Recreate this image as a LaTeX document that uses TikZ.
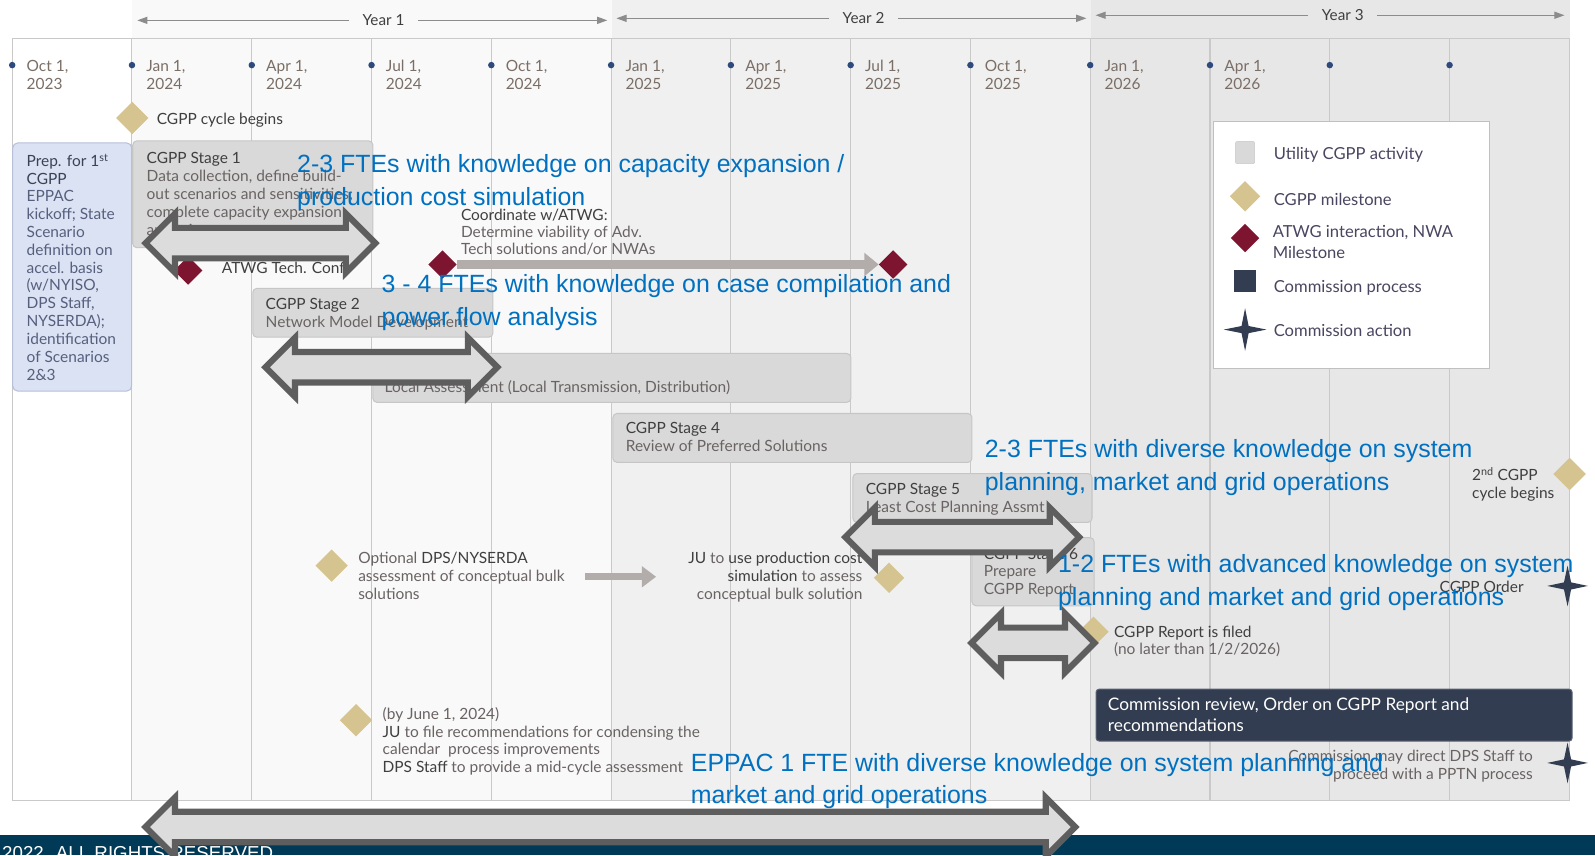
\documentclass[tikz,border=0pt]{standalone}
\usepackage{fontspec}
\setmainfont{Lato}
\newfontfamily\bluefont{Liberation Sans}
\usetikzlibrary{arrows.meta,shapes.geometric}
\definecolor{bandA}{HTML}{F9F9F9}
\definecolor{bandB}{HTML}{F0F0F0}
\definecolor{bandC}{HTML}{E7E7E7}
\definecolor{gridc}{HTML}{C9C9C9}
\definecolor{dotc}{HTML}{2E4A7D}
\definecolor{datec}{HTML}{7A6E66}
\definecolor{tanc}{HTML}{D5C48F}
\definecolor{maroonc}{HTML}{7D1530}
\definecolor{navyc}{HTML}{333D51}
\definecolor{boxfill}{HTML}{D9D9D9}
\definecolor{boxedge}{HTML}{C6C6C6}
\definecolor{prepfill}{HTML}{DAE2F3}
\definecolor{prepedge}{HTML}{B6C0D8}
\definecolor{prepdark}{HTML}{3A4257}
\definecolor{preptxt}{HTML}{56607E}
\definecolor{darktxt}{HTML}{3F3F3F}
\definecolor{midtxt}{HTML}{6A6363}
\definecolor{bluet}{HTML}{0070C0}
\definecolor{arrowedge}{HTML}{5E5E5E}
\definecolor{arrowfill}{HTML}{DCDCDC}
\definecolor{flowc}{HTML}{B2ACAA}
\definecolor{footc}{HTML}{003A57}
\definecolor{legtxt}{HTML}{4A4560}
\definecolor{yearc}{HTML}{8C8C8C}
\definecolor{legedge}{HTML}{C0C0C0}

\tikzset{
  txt/.style={inner sep=0pt, anchor=north west, align=left, font=\fontsize{15.2}{17.5}\selectfont, text=midtxt},
  boxg/.style={draw=boxedge, fill=boxfill, rounded corners=4pt, line width=1pt, anchor=north west, inner sep=0pt},
  msd/.style={diamond, fill=tanc, inner sep=0pt, minimum width=#1, minimum height=#1},
  msd/.default=32pt,
  atd/.style={diamond, fill=maroonc, inner sep=0pt, minimum width=28pt, minimum height=28pt},
  fatarr/.style={draw=arrowedge, fill=arrowfill, line width=6pt, line join=miter, miter limit=10},
  bluetxt/.style={inner sep=0pt, anchor=north west, align=left, text=bluet, font=\bluefont\fontsize{24.5}{32}\selectfont},
  flow/.style={draw=flowc, line width=8pt, -{Triangle[length=14pt,width=22pt]}},
  gridline/.style={draw=gridc, line width=1pt},
  yeararr/.style={draw=yearc, line width=1.1pt, -{Triangle[length=10pt,width=7pt]}},
  yeartxt/.style={inner ysep=0pt, inner xsep=13pt, text=darktxt, font=\fontsize{15}{16}\selectfont},
  datetxt/.style={txt, text=datec},
  legtext/.style={inner sep=0pt, anchor=west, align=left, text=legtxt, font=\fontsize{16.3}{20}\selectfont},
}
\newcommand{\fatarrow}[3]{%
  \draw[fatarr] (#1,#3) -- (#1+29,#3-29) -- (#1+29,#3-15) -- (#2-29,#3-15) -- (#2-29,#3-29) -- (#2,#3)
    -- (#2-29,#3+29) -- (#2-29,#3+15) -- (#1+29,#3+15) -- (#1+29,#3+29) -- cycle;}
\newcommand{\cstar}[3]{%
  \fill[navyc] (#1,#2-#3) -- (#1+3.5,#2-3.5) -- (#1+#3,#2) -- (#1+3.5,#2+3.5) -- (#1,#2+#3)
    -- (#1-3.5,#2+3.5) -- (#1-#3,#2) -- (#1-3.5,#2-3.5) -- cycle;}

\begin{document}
\begin{tikzpicture}[x=1pt,y=-1pt]
\useasboundingbox (0,0) rectangle (1568,841);
\fill[white] (0,0) rectangle (1568,841);
% year bands
\fill[bandA] (130,0) rectangle (602,787);
\fill[bandB] (602,0) rectangle (1073,787);
\fill[bandC] (1073,0) rectangle (1543,787);
% grid
\draw[gridline] (12,38) -- (1543,38);
\draw[gridline] (12,787) -- (1543,787);
\foreach \i in {0,...,13} {
  \draw[gridline] (12+117.75*\i,38) -- (12+117.75*\i,787);
}
% year headers
\node[yeartxt] (y1) at (377,20) {Year 1};
\coordinate (y1l) at (135,20); \coordinate (y1r) at (597,20);
\draw[yeararr] (y1) -- (y1l); \draw[yeararr] (y1) -- (y1r);
\node[yeartxt] (y2) at (849,18) {Year 2};
\coordinate (y2l) at (606,18); \coordinate (y2r) at (1068,18);
\draw[yeararr] (y2) -- (y2l); \draw[yeararr] (y2) -- (y2r);
\node[yeartxt] (y3) at (1320,15) {Year 3};
\coordinate (y3l) at (1077,15); \coordinate (y3r) at (1538,15);
\draw[yeararr] (y3) -- (y3l); \draw[yeararr] (y3) -- (y3r);
% dates
\foreach \i/\m/\yr in {0/Oct/2023,1/Jan/2024,2/Apr/2024,3/Jul/2024,4/Oct/2024,5/Jan/2025,6/Apr/2025,7/Jul/2025,8/Oct/2025,9/Jan/2026,10/Apr/2026} {
  \node[datetxt] (date\i) at (12+117.75*\i+14,59) {\m{} 1,\\\yr};
}
\foreach \i in {0,...,12} {
  \fill[dotc] (12+117.75*\i,64) circle (3.2);
}
% legend
\node[draw=legedge, fill=white, line width=1.2pt, minimum width=272pt, minimum height=243pt, anchor=north west, inner sep=0pt] (legend) at (1192,119) {};
\node[draw=boxedge, fill=boxfill, rounded corners=2pt, minimum width=19pt, minimum height=22pt, inner sep=0pt] (lg1) at (1224,150) {};
\node[msd=30pt] (lg2) at (1224,193) {};
\node[atd] (lg3) at (1224,234) {};
\node[fill=navyc, minimum width=21pt, minimum height=22pt, inner sep=0pt] (lg4) at (1224,276) {};
\cstar{1224}{324}{21}
\node[legtext] (lt1) at (1252,152) {Utility CGPP activity};
\node[legtext] (lt2) at (1252,196) {CGPP milestone};
\node[legtext] (lt3) at (1251,238) {ATWG interaction, NWA\\Milestone};
\node[legtext] (lt4) at (1252,283) {Commission process};
\node[legtext] (lt5) at (1252,325) {Commission action};
% boxes
\node[draw=prepedge, fill=prepfill, rounded corners=5pt, line width=1pt, anchor=north west, inner sep=0pt, minimum width=117pt, minimum height=244pt] (prep) at (12,140) {};
\node[boxg, minimum width=236pt, minimum height=105pt] (s1) at (130,138) {};
\node[boxg, minimum width=236pt, minimum height=48pt] (s2) at (248,283) {};
\node[boxg, minimum width=470pt, minimum height=48pt] (s3) at (366,347) {};
\node[boxg, minimum width=353pt, minimum height=48pt] (s4) at (602,406) {};
\node[boxg, minimum width=235pt, minimum height=48pt] (s5) at (838,465) {};
\node[boxg, minimum width=120pt, minimum height=67pt] (s6) at (955,528) {};
\node[draw=navyc!80!white, fill=navyc, rounded corners=3pt, line width=1pt, anchor=north west, inner sep=0pt, minimum width=468pt, minimum height=51pt] (comm) at (1077,677) {};
% box texts
\node[txt] (preptext) at (26,151) {\textcolor{prepdark}{Prep. for 1\textsuperscript{st}}\\\textcolor{prepdark}{CGPP}\\\textcolor{preptxt}{EPPAC}\\\textcolor{preptxt}{kickoff; State}\\\textcolor{preptxt}{Scenario}\\\textcolor{preptxt}{definition on}\\\textcolor{preptxt}{accel. basis}\\\textcolor{preptxt}{(w/NYISO,}\\\textcolor{preptxt}{DPS Staff,}\\\textcolor{preptxt}{NYSERDA);}\\\textcolor{preptxt}{identification}\\\textcolor{preptxt}{of Scenarios}\\\textcolor{preptxt}{2\&3}};
\node[txt] (s1t) at (144,150) {\textcolor{darktxt}{CGPP Stage 1}\\Data collection, define build-\\out scenarios and sensitivities;\\complete capacity expansion\\analysis};
\node[txt] (s2t) at (261,293) {\textcolor{darktxt}{CGPP Stage 2}\\Network Model Development};
\node[txt, anchor=west] (s3t) at (378,381) {Local Assessment (Local Transmission, Distribution)};
\node[txt] (s4t) at (615,415) {\textcolor{darktxt}{CGPP Stage 4}\\Review of Preferred Solutions};
\node[txt] (s5t) at (851,475) {\textcolor{darktxt}{CGPP Stage 5}\\Least Cost Planning Assmt};
\node[txt, font=\fontsize{15.2}{17}\selectfont] (s6t) at (967,539) {\textcolor{darktxt}{CGPP Stage 6}\\Prepare\\CGPP Report};
\node[txt, text=white, font=\fontsize{17}{20}\selectfont] (commt) at (1089,686) {Commission review, Order on CGPP Report and\\recommendations};
% milestones and notes
\node[msd] (cyc) at (130,116) {};
\node[txt, anchor=west, text=darktxt] (cyct) at (154,118) {CGPP cycle begins};
\node[atd] (m1) at (185,266) {};
\node[txt, anchor=west, text=darktxt] (m1t) at (218,263) {ATWG Tech. Conf};
\node[txt, font=\fontsize{15.2}{17}\selectfont] (coord) at (453,205) {\textcolor{darktxt}{Coordinate w/ATWG:}\\Determine viability of Adv.\\Tech solutions and/or NWAs};
\node[atd] (m2) at (435,260) {};
\node[atd] (m3) at (878,260) {};
\draw[flow] (m2.east) -- (m3.west);
\node[msd] (opt) at (326,556) {};
\node[txt] (optt) at (352,543) {Optional \textcolor{darktxt}{DPS/NYSERDA}\\assessment of conceptual bulk\\solutions};
\coordinate (optA) at (575,567);
\coordinate (optB) at (645,567);
\draw[flow, line width=7pt, -{Triangle[length=14pt,width=20pt]}] (optA) -- (optB);
\node[txt, anchor=north east, align=right] (jut) at (848,543) {\textcolor{darktxt}{JU} to \textcolor{darktxt}{use production cost}\\\textcolor{darktxt}{simulation} to assess\\conceptual bulk solution};
\node[msd=30pt] (ju) at (874,568) {};
\node[msd=30pt] (filed) at (1075,621) {};
\node[txt] (filedt) at (1095,615) {\textcolor{darktxt}{CGPP Report is filed}\\(no later than 1/2/2026)};
\node[msd] (next) at (1543,466) {};
\node[txt, text=darktxt] (nextt) at (1447,459) {2\textsuperscript{nd} CGPP\\cycle begins};
\cstar{1541}{576}{20}
\node[txt, anchor=east, text=darktxt] (ordt) at (1498,577) {CGPP Order};
\cstar{1541}{750}{20}
\node[txt, anchor=north east, align=right] (dirt) at (1507,737) {Commission may direct DPS Staff to\\proceed with a PPTN process};
\node[msd] (june) at (350,708) {};
\node[txt, font=\fontsize{15.2}{17.6}\selectfont] (junet) at (376,695) {(by June 1, 2024)\\\textcolor{darktxt}{JU} to file recommendations for condensing the\\calendar~ process improvements\\\textcolor{darktxt}{DPS Staff} to provide a mid-cycle assessment};
% footer
\fill[footc] (0,821) rectangle (1568,841);
\node[anchor=base west, inner sep=0pt, text=white, font=\bluefont\fontsize{18.4}{20}\selectfont] (foot) at (2,845) {2022. ALL RIGHTS RESERVED};
% big double arrows
\fatarrow{143}{369}{239}
\fatarrow{261}{489}{361}
\fatarrow{831}{1061}{528}
\fatarrow{955}{1076}{632}
\fatarrow{143}{1057}{813}
% blue annotations
\node[bluetxt] (b1) at (292,152) {2-3 FTEs with knowledge on capacity expansion /\\production cost simulation};
\node[bluetxt] (b2) at (375,270) {3 - 4 FTEs with knowledge on case compilation and\\power flow analysis};
\node[bluetxt] (b3) at (968,432) {2-3 FTEs with diverse knowledge on system\\planning, market and grid operations};
\node[bluetxt] (b4) at (1040,545) {1-2 FTEs with advanced knowledge on system\\planning and market and grid operations};
\node[bluetxt] (b5) at (679,740) {EPPAC 1 FTE with diverse knowledge on system planning and\\market and grid operations};
\end{tikzpicture}
\end{document}
